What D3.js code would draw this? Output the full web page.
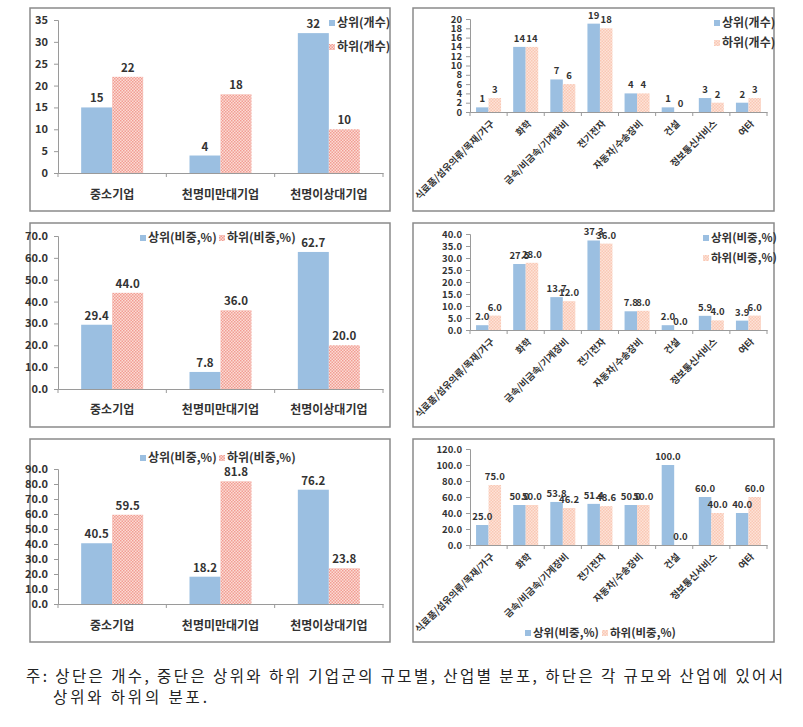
<!DOCTYPE html>
<html><head><meta charset="utf-8">
<script src="https://cdn.jsdelivr.net/npm/d3@7"></script>
<style>
html,body{margin:0;padding:0;background:#fff;}
svg{display:block;}
text{font-family:"Noto Sans CJK KR","Noto Sans",sans-serif;}
</style></head>
<body>
<svg id="c" width="803" height="727"></svg>
<script>
// ---- data ----
const sizeCats = ["중소기업", "천명미만대기업", "천명이상대기업"];
const sizeCountTop = [15, 4, 32];
const sizeCountBot = [22, 18, 10];
const sizeShareTop = [29.4, 7.8, 62.7];
const sizeShareBot = [44.0, 36.0, 20.0];
const sizeRatioTop = [40.5, 18.2, 76.2];
const sizeRatioBot = [59.5, 81.8, 23.8];

const indCats = ["식료품/섬유의류/목재/가구", "화학", "금속/비금속/기계장비", "전기전자", "자동차/수송장비", "건설", "정보통신서비스", "여타"];
const indCountTop = [1, 14, 7, 19, 4, 1, 3, 2];
const indCountBot = [3, 14, 6, 18, 4, 0, 2, 3];
const indShareTop = [2.0, 27.5, 13.7, 37.3, 7.8, 2.0, 5.9, 3.9];
const indShareBot = [6.0, 28.0, 12.0, 36.0, 8.0, 0.0, 4.0, 6.0];
const indRatioTop = [25.0, 50.0, 53.8, 51.4, 50.0, 100.0, 60.0, 40.0];
const indRatioBot = [75.0, 50.0, 46.2, 48.6, 50.0, 0.0, 40.0, 60.0];

const ticksCount35 = [0, 5, 10, 15, 20, 25, 30, 35];
const ticksCount20 = [0, 2, 4, 6, 8, 10, 12, 14, 16, 18, 20];
const ticksShare70 = [0, 10, 20, 30, 40, 50, 60, 70];
const ticksShare40 = [0, 5, 10, 15, 20, 25, 30, 35, 40];
const ticksRatio90 = [0, 10, 20, 30, 40, 50, 60, 70, 80, 90];
const ticksRatio120 = [0, 20, 40, 60, 80, 100, 120];

const legCountTop = "상위(개수)", legCountBot = "하위(개수)";
const legShareTop = "상위(비중,%)", legShareBot = "하위(비중,%)";

const footLine1 = "주: 상단은 개수, 중단은 상위와 하위 기업군의 규모별, 산업별 분포, 하단은 각 규모와 산업에 있어서";
const footLine2 = "상위와 하위의 분포.";

// ---- drawing ----
const svg = d3.select("#c");
const BLUE = "#9bbfe1";
const NUMF = "'Liberation Sans Narrow','DejaVu Sans Condensed','Noto Sans CJK KR',sans-serif";
const defs = svg.append("defs");
const p1 = defs.append("pattern").attr("id", "pinkA").attr("width", 3).attr("height", 3).attr("patternUnits", "userSpaceOnUse");
p1.append("rect").attr("width", 3).attr("height", 3).attr("fill", "#fbdcd5");
p1.append("rect").attr("x", 0).attr("y", 0).attr("width", 1.5).attr("height", 1.5).attr("fill", "#f29d93");
p1.append("rect").attr("x", 1.5).attr("y", 1.5).attr("width", 1.5).attr("height", 1.5).attr("fill", "#f29d93");
const p2 = defs.append("pattern").attr("id", "pinkB").attr("width", 3).attr("height", 3).attr("patternUnits", "userSpaceOnUse");
p2.append("rect").attr("width", 3).attr("height", 3).attr("fill", "#fde3d8");
p2.append("rect").attr("x", 0).attr("y", 0).attr("width", 1.5).attr("height", 1.5).attr("fill", "#f9c8b5");
p2.append("rect").attr("x", 1.5).attr("y", 1.5).attr("width", 1.5).attr("height", 1.5).attr("fill", "#f9c8b5");

function frame(x0, y0, x1, y1) {
  svg.append("rect").attr("x", x0).attr("y", y0).attr("width", x1 - x0).attr("height", y1 - y0)
    .attr("fill", "none").attr("stroke", "#8a8a8a").attr("stroke-width", 1.5);
}

function chart(o) {
  const g = svg.append("g");
  const y = d3.scaleLinear().domain([0, o.ymax]).range([o.yb, o.yt]);
  const xg = d3.scaleBand().domain(o.cats).range([o.xl, o.xr]).paddingInner(0).paddingOuter(0);
  const xs = d3.scaleBand().domain([0, 1]).range([0, 2 * o.bw]);
  const ya = d3.axisLeft(y).tickValues(o.ticks).tickSize(4).tickPadding(o.tp).tickFormat(o.fmt);
  const ag = g.append("g").attr("transform", `translate(${o.xl},0)`).call(ya);
  ag.select(".domain").attr("stroke", "#9a9a9a");
  ag.selectAll(".tick line").attr("stroke", "#9a9a9a");
  ag.selectAll(".tick text").attr("fill", "#333").attr("font-size", o.tfs).attr("font-weight", 700)
    .attr("font-family", "'Noto Sans CJK KR',sans-serif");
  const xa = d3.axisBottom(xg).tickSize(0).tickFormat("");
  const xag = g.append("g").attr("transform", `translate(0,${o.yb})`).call(xa);
  xag.select(".domain").attr("stroke", "#9a9a9a");
  const bounds = o.cats.map(c => xg(c)).concat([o.xr]);
  g.selectAll(".sep").data(bounds).enter().append("line")
    .attr("x1", d => d).attr("x2", d => d).attr("y1", o.yb).attr("y2", o.yb + 4).attr("stroke", "#9a9a9a");
  const series = [o.top, o.bot];
  const fills = [BLUE, o.pink];
  series.forEach((vals, si) => {
    g.selectAll(".b" + si).data(vals).enter().append("rect")
      .attr("x", (d, i) => xg(o.cats[i]) + xg.bandwidth() / 2 - o.bw + xs(si))
      .attr("width", xs.bandwidth())
      .attr("y", d => y(d)).attr("height", d => o.yb - y(d))
      .attr("fill", fills[si]);
  });
  series.forEach((vals, si) => {
    g.selectAll(".l" + si).data(vals).enter().append("text")
      .attr("x", (d, i) => xg(o.cats[i]) + xg.bandwidth() / 2 - o.bw + xs(si) + xs.bandwidth() / 2)
      .attr("y", d => y(d) - 5)
      .attr("text-anchor", "middle").attr("font-size", o.vfs).attr("font-weight", 700).attr("fill", "#333")
      .attr("font-family", o.vff || null)
      .text(d => o.fmt(d));
  });
  if (o.rot) {
    g.selectAll(".cl").data(o.cats).enter().append("text")
      .attr("transform", d => `translate(${xg(d) + xg.bandwidth() / 2 + 4},${o.yb + 10}) rotate(-45)`)
      .attr("text-anchor", "end").attr("dy", "0.35em")
      .attr("font-size", o.cfs).attr("font-weight", 700).attr("fill", "#333").text(d => d);
  } else {
    g.selectAll(".cl").data(o.cats).enter().append("text")
      .attr("x", d => xg(d) + xg.bandwidth() / 2).attr("y", o.cy)
      .attr("text-anchor", "middle").attr("dy", "0.35em")
      .attr("font-size", o.cfs).attr("font-weight", 700).attr("fill", "#333").text(d => d);
  }
  o.leg.forEach((L, i) => {
    g.append("rect").attr("x", L.x).attr("y", L.y - 3).attr("width", 6).attr("height", 6)
      .attr("fill", i === 0 ? BLUE : o.pink);
    g.append("text").attr("x", L.x + 8).attr("y", L.y).attr("dy", "0.35em")
      .attr("font-size", o.lfs).attr("font-weight", 700).attr("fill", "#333").text(L.t);
  });
}

const f0 = d => d3.format("d")(d);
const f1 = d => d3.format(".1f")(d);

frame(30, 8, 390, 211);
frame(413, 8, 774, 211);
frame(30, 223, 390, 427);
frame(413, 223, 774, 427);
frame(30, 439, 390, 642);
frame(413, 439, 774, 642);

chart({cats: sizeCats, top: sizeCountTop, bot: sizeCountBot, ymax: 35, ticks: ticksCount35, fmt: f0,
  xl: 58, xr: 383, yt: 20, yb: 173, bw: 31, tp: 6, tfs: 11, vfs: 11.5, cfs: 12, lfs: 12, cy: 195,
  pink: "url(#pinkA)",
  leg: [{x: 329, y: 23, t: legCountTop}, {x: 329, y: 47, t: legCountBot}]});
chart({cats: sizeCats, top: sizeShareTop, bot: sizeShareBot, ymax: 70, ticks: ticksShare70, fmt: f1,
  xl: 58, xr: 383, yt: 236, yb: 389, bw: 31, tp: 6, tfs: 11, vfs: 11.5, cfs: 12, lfs: 12, cy: 410,
  pink: "url(#pinkA)",
  leg: [{x: 140, y: 238, t: legShareTop}, {x: 219, y: 238, t: legShareBot}]});
chart({cats: sizeCats, top: sizeRatioTop, bot: sizeRatioBot, ymax: 90, ticks: ticksRatio90, fmt: f1,
  xl: 58, xr: 383, yt: 469, yb: 604, bw: 31, tp: 6, tfs: 11, vfs: 11.5, cfs: 12, lfs: 12, cy: 626,
  pink: "url(#pinkA)",
  leg: [{x: 140, y: 458, t: legShareTop}, {x: 219, y: 458, t: legShareBot}]});
chart({cats: indCats, top: indCountTop, bot: indCountBot, ymax: 20, ticks: ticksCount20, fmt: f0,
  xl: 470, xr: 767, yt: 19, yb: 112, bw: 12.5, tp: 4, tfs: 9.5, vfs: 9.5, vff: NUMF, cfs: 9.5, lfs: 12, rot: true,
  pink: "url(#pinkB)",
  leg: [{x: 714, y: 23, t: legCountTop}, {x: 714, y: 43, t: legCountBot}]});
chart({cats: indCats, top: indShareTop, bot: indShareBot, ymax: 40, ticks: ticksShare40, fmt: f1,
  xl: 470, xr: 767, yt: 234, yb: 330, bw: 12.5, tp: 4, tfs: 9.5, vfs: 9.5, vff: NUMF, cfs: 9.5, lfs: 11.5, rot: true,
  pink: "url(#pinkB)",
  leg: [{x: 703, y: 238, t: legShareTop}, {x: 703, y: 258, t: legShareBot}]});
chart({cats: indCats, top: indRatioTop, bot: indRatioBot, ymax: 120, ticks: ticksRatio120, fmt: f1,
  xl: 470, xr: 767, yt: 449, yb: 545, bw: 12.5, tp: 4, tfs: 9.5, vfs: 9.5, vff: NUMF, cfs: 9.5, lfs: 11.5, rot: true,
  pink: "url(#pinkB)",
  leg: [{x: 525, y: 633, t: legShareTop}, {x: 602, y: 633, t: legShareBot}]});

svg.append("text").attr("x", 26).attr("y", 682).attr("font-size", 15.5).attr("fill", "#222")
  .attr("textLength", 757).attr("lengthAdjust", "spacing").text(footLine1);
svg.append("text").attr("x", 53).attr("y", 703).attr("font-size", 15.5).attr("fill", "#222")
  .attr("textLength", 154).attr("lengthAdjust", "spacing").text(footLine2);
</script>
</body></html>
